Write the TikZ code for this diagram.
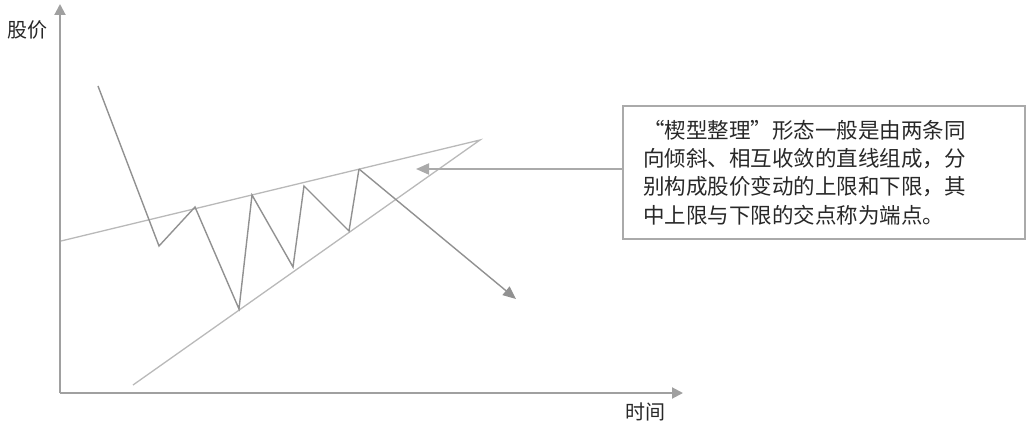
\documentclass[tikz,border=0pt]{standalone}
\usepackage{fontspec}
\newfontfamily\cjk{Noto Sans CJK SC}
\usetikzlibrary{arrows.meta}
\definecolor{axisgray}{RGB}{160,160,160}
\definecolor{pricegray}{RGB}{145,145,145}
\definecolor{trendgray}{RGB}{185,185,185}
\definecolor{boxgray}{RGB}{170,170,170}
\definecolor{txt}{RGB}{40,40,40}
\begin{document}
\begin{tikzpicture}[x=1pt,y=-1pt,
  axis/.style={draw=axisgray,line width=2pt,-{Triangle[length=11pt,width=11pt]}},
  price/.style={draw=pricegray,line width=1.4pt,line join=miter},
  trend/.style={draw=trendgray,line width=1.3pt},
  callout/.style={draw=boxgray,line width=2pt,-{Triangle[length=13pt,width=11pt]}},
  lbl/.style={text=txt,font=\cjk\fontsize{20}{24}\selectfont,inner sep=0pt},
  notebox/.style={draw=boxgray,line width=2pt,minimum width=402pt,minimum height=133pt,
    text width=362pt,align=left,inner xsep=20pt,text=txt,
    font=\cjk\fontsize{21.5}{28.3}\selectfont}]
\useasboundingbox (0,0) rectangle (1030,425);
% axes
\coordinate (O) at (60,393);
\coordinate (ytop) at (60,4);
\coordinate (xend) at (683,393);
\draw[axis] (O) -- (ytop);
\draw[axis] (O) -- (xend);
\node[lbl] (ylab) at (28,30) {股价};
\node[lbl] (xlab) at (645,412) {时间};
% trend lines
\coordinate (apex) at (480,140);
\coordinate (up0) at (61,241);
\coordinate (lo0) at (133,385);
\draw[trend] (up0) -- (apex) -- (lo0);
% price path
\coordinate (p0) at (98,86);
\coordinate (p1) at (159,246);
\coordinate (p2) at (195,207);
\coordinate (p3) at (239,309);
\coordinate (p4) at (252,195);
\coordinate (p5) at (293,267);
\coordinate (p6) at (304,186);
\coordinate (p7) at (349,231);
\coordinate (p8) at (359,169);
\coordinate (p9) at (516,299);
\draw[price] (p0) -- (p1) -- (p2) -- (p3) -- (p4) -- (p5) -- (p6) -- (p7) -- (p8);
\draw[price,-{Triangle[length=13pt,width=11pt]}] (p8) -- (p9);
% note box
\node[notebox] (note) at (824,172.5) {“楔型整理”形态一般是由两条同\\向倾斜、相互收敛的直线组成，分\\别构成股价变动的上限和下限，其\\中上限与下限的交点称为端点。};
\coordinate (tip) at (416,169);
\draw[callout] (note.west |- tip) -- (tip);
\end{tikzpicture}
\end{document}
